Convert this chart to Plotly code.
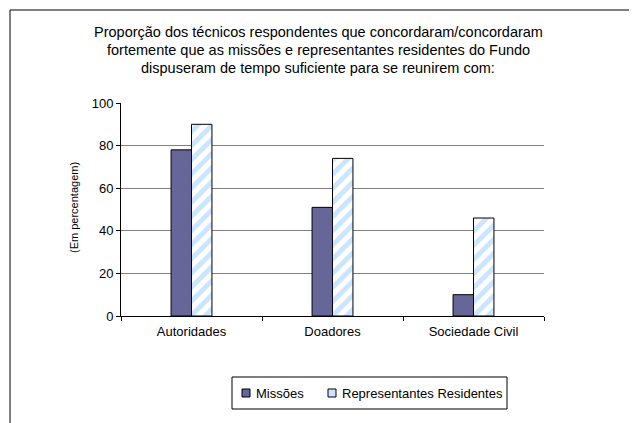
import plotly.graph_objects as go

categories = ["Autoridades", "Doadores", "Sociedade Civil"]
missoes = [78, 51, 10]
representantes = [90, 74, 46]
series_names = ["Missões", "Representantes Residentes"]
series_colors = ["#666699", "#CCE6FF"]
title_lines = ["Proporção dos técnicos respondentes que concordaram/concordaram",
               "fortemente que as missões e representantes residentes do Fundo",
               "dispuseram de tempo suficiente para se reunirem com:"]
y_label = "(Em percentagem)"

W, H = 637, 423
OFF = 8  # page body margin
L, T = 113, 95
pw, ph = 423, 213
R = W - L - pw
B = H - T - ph
FONT = "Liberation Sans, Arial, sans-serif"

def px_x(sx):
    return (sx - OFF - L) / pw

def px_y(sy):
    return (T + ph - (sy - OFF)) / ph

fig = go.Figure()
fig.add_trace(go.Bar(
    x=categories, y=missoes, name=series_names[0], showlegend=False,
    marker=dict(color=series_colors[0], line=dict(color="#000000", width=1)),
))
fig.add_trace(go.Bar(
    x=categories, y=representantes, name=series_names[1], showlegend=False,
    marker=dict(color="#FFFFFF", line=dict(color="#000000", width=1),
                pattern=dict(shape="/", fgcolor="#99CCFF", bgcolor="#FFFFFF",
                             size=10, solidity=0.5, fillmode="overlay")),
))

shapes = [
    # outer frame (only left and top visible in the window)
    dict(type="rect", xref="paper", yref="paper",
         x0=px_x(10), x1=px_x(W + 30), y0=px_y(H + 30), y1=px_y(10),
         line=dict(color="#000000", width=1), fillcolor="rgba(0,0,0,0)", layer="below"),
    # legend box
    dict(type="rect", xref="paper", yref="paper",
         x0=px_x(232), x1=px_x(507), y0=px_y(409), y1=px_y(377),
         line=dict(color="#000000", width=1), fillcolor="white", layer="below"),
]
annotations = [
    dict(text=y_label, xref="paper", yref="paper", x=px_x(74), y=px_y(208),
         textangle=-90, showarrow=False, xanchor="center", yanchor="middle",
         font=dict(size=11, family=FONT)),
]
title_y = [32, 50, 68]
for line, ty in zip(title_lines, title_y):
    annotations.append(dict(text=line, xref="paper", yref="paper",
                            x=px_x(318), y=px_y(ty), showarrow=False,
                            xanchor="center", yanchor="middle",
                            font=dict(size=14.5, family=FONT)))
leg_sq = [(242, 250), (328, 336)]
leg_tx = [254, 340]
for i, name in enumerate(series_names):
    shapes.append(dict(type="rect", xref="paper", yref="paper",
                       x0=px_x(leg_sq[i][0]), x1=px_x(leg_sq[i][1]),
                       y0=px_y(397), y1=px_y(389),
                       line=dict(color="#000000", width=1), fillcolor=series_colors[i]))
    annotations.append(dict(text=name, xref="paper", yref="paper",
                            x=px_x(leg_tx[i]), y=px_y(393), showarrow=False,
                            xanchor="left", yanchor="middle",
                            font=dict(size=13, family=FONT)))

fig.update_layout(
    width=W, height=H,
    margin=dict(l=L, r=R, t=T, b=B, autoexpand=False),
    paper_bgcolor="white", plot_bgcolor="white",
    font=dict(family=FONT, color="#000000", size=13),
    barmode="group", bargap=0.71, bargroupgap=0,
    showlegend=False,
    xaxis=dict(showline=True, linecolor="#000000", linewidth=1,
               ticks="outside", tickson="boundaries", ticklen=4, tickcolor="#000000",
               showgrid=False, tickfont=dict(size=13), ticklabelstandoff=3,
               fixedrange=True),
    yaxis=dict(range=[0, 100], tickvals=[0, 20, 40, 60, 80, 100],
               showline=True, linecolor="#000000", linewidth=1,
               ticks="outside", ticklen=4, tickcolor="#000000",
               showgrid=True, gridcolor="#808080", gridwidth=1,
               zeroline=False, tickfont=dict(size=13)),
    shapes=shapes,
    annotations=annotations,
)

fig.write_html("out.html")
